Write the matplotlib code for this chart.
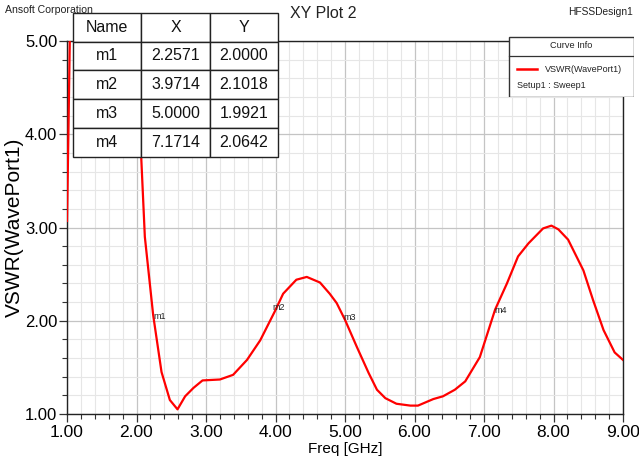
import numpy as np
import matplotlib as mpl
mpl.use("Agg")
import matplotlib.pyplot as plt
from matplotlib.ticker import MultipleLocator, FormatStrFormatter
from matplotlib.patches import Rectangle
from matplotlib.lines import Line2D

FONT = ["Liberation Sans", "DejaVu Sans"]

# ---- data ----
freq = [1.00, 1.02, 1.04, 1.06, 2.00, 2.04, 2.07, 2.12, 2.24, 2.36, 2.48, 2.59,
        2.70, 2.82, 2.95, 3.20, 3.39, 3.59, 3.78, 3.99, 4.11, 4.30, 4.45, 4.64,
        4.78, 4.88, 5.00, 5.17, 5.34, 5.46, 5.58, 5.74, 5.94, 6.05, 6.27, 6.41,
        6.58, 6.73, 6.94, 7.16, 7.33, 7.49, 7.64, 7.85, 7.97, 8.07, 8.21, 8.43,
        8.57, 8.72, 8.88, 9.00]
vswr = [3.07, 4.00, 5.00, 5.50, 5.50, 4.30, 3.72, 2.90, 2.06, 1.45, 1.15, 1.05,
        1.19, 1.28, 1.36, 1.37, 1.42, 1.58, 1.79, 2.10, 2.29, 2.44, 2.47, 2.41,
        2.29, 2.19, 2.01, 1.72, 1.44, 1.26, 1.17, 1.11, 1.09, 1.09, 1.16, 1.19,
        1.26, 1.35, 1.61, 2.12, 2.40, 2.69, 2.83, 2.99, 3.02, 2.98, 2.87, 2.54,
        2.22, 1.90, 1.66, 1.58]

marker_names = ["m1", "m2", "m3", "m4"]
marker_x = [2.2571, 3.9714, 5.0000, 7.1714]
marker_y = [2.0000, 2.1018, 1.9921, 2.0642]

W, H = 639, 463
fig = plt.figure(figsize=(W / 100, H / 100), dpi=100)
ax = fig.add_axes([67 / W, 1 - 414 / H, 556 / W, 373 / H])

ax.plot(freq, vswr, color="#ff0000", lw=1.6, zorder=3)
ax.set_xlim(1, 9)
ax.set_ylim(1, 5)

ax.xaxis.set_major_locator(MultipleLocator(1))
ax.xaxis.set_minor_locator(MultipleLocator(0.2))
ax.yaxis.set_major_locator(MultipleLocator(1))
ax.yaxis.set_minor_locator(MultipleLocator(0.2))
ax.xaxis.set_major_formatter(FormatStrFormatter("%.2f"))
ax.yaxis.set_major_formatter(FormatStrFormatter("%.2f"))
ax.grid(which="major", color="#c4c4c4", lw=0.9)
ax.grid(which="minor", color="#e6e6e6", lw=0.8)
ax.set_axisbelow(True)
ax.tick_params(which="major", direction="out", length=6, width=0.9, color="#333333")
ax.tick_params(which="minor", direction="out", length=3.5, width=0.8, color="#333333")
ax.tick_params(axis="x", pad=2)
ax.tick_params(axis="y", pad=1)
for lab in ax.get_xticklabels():
    lab.set_family(FONT); lab.set_fontsize(12.5)
for lab in ax.get_yticklabels():
    lab.set_family(FONT); lab.set_fontsize(12)
for s in ax.spines.values():
    s.set_color("#222222"); s.set_linewidth(1.0)

ax.set_xlabel("Freq [GHz]", family=FONT, fontsize=11, labelpad=1)
ax.set_ylabel("VSWR(WavePort1)", family=FONT, fontsize=15, labelpad=1)

# marker labels
for n, mx, my in zip(marker_names, marker_x, marker_y):
    ax.annotate(n, (mx, my), xytext=(-1, 3), textcoords="offset points",
                fontsize=6.5, family=FONT, color="#222222", va="center", ha="left",
                zorder=4)

# header texts
fig.text(5 / W, 1 - 10 / H, "Ansoft Corporation", family=FONT, fontsize=7.6,
         va="center", ha="left", color="#222222")
fig.text(290 / W, 1 - 14 / H, "XY Plot 2", family=FONT, fontsize=11.5,
         va="center", ha="left", color="#222222")
fig.text(633 / W, 1 - 12 / H, "HFSSDesign1", family=FONT, fontsize=7.4,
         va="center", ha="right", color="#222222")

# marker table
cells = [[n, f"{x:.4f}", f"{y:.4f}"] for n, x, y in zip(marker_names, marker_x, marker_y)]
tb = ax.table(cellText=cells, colLabels=["Name", "X", "Y"], cellLoc="center",
              bbox=[5.7 / 556, (414 - 156.7) / 373, 205.6 / 556, 144 / 373])
tb.auto_set_font_size(False)
for (r, c), cell in tb.get_celld().items():
    cell.set_facecolor("white")
    cell.set_edgecolor("#222222")
    cell.set_linewidth(1.0)
    cell.get_text().set_fontsize(11.5)
    cell.get_text().set_family(FONT)
    cell.get_text().set_color("#111111")
tb.set_zorder(10)
tb.set_clip_on(False)

# curve info box
lg = fig.add_axes([508 / W, 1 - 97 / H, 126 / W, 61 / H])
lg.set_xlim(0, 126); lg.set_ylim(61, 0)
lg.axis("off")
lg.add_patch(Rectangle((0.5, 0.5), 125, 60, facecolor="white", edgecolor="#333333", lw=1.0))
lg.plot([0.5, 125.5], [20, 20], color="#333333", lw=0.9)
lg.text(63, 10, "Curve Info", family=FONT, fontsize=6.6, ha="center", va="center", color="#222222")
lg.add_line(Line2D([9, 29], [33, 33], color="#ff0000", lw=1.8))
lg.text(37, 33, "VSWR(WavePort1)", family=FONT, fontsize=6.5, ha="left", va="center", color="#222222")
lg.text(9, 49, "Setup1 : Sweep1", family=FONT, fontsize=6.5, ha="left", va="center", color="#222222")

fig.savefig("out.png", dpi=100)
